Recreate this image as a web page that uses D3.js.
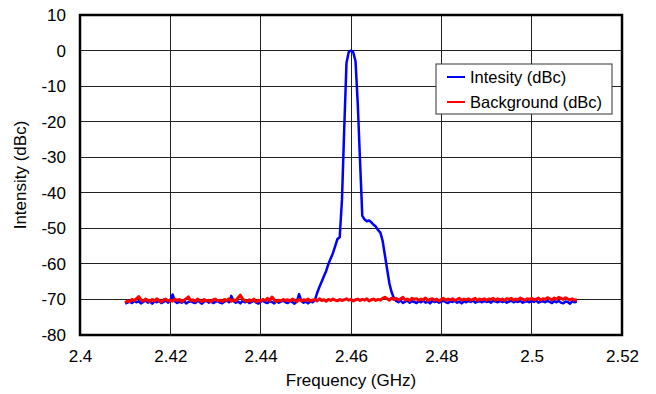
<!DOCTYPE html>
<html lang="en">
<head>
<meta charset="utf-8">
<title>Intensity vs Frequency</title>
<script src="https://cdn.jsdelivr.net/npm/d3@7"></script>
<style>
  body { margin: 0; background: #fff; }
  svg { font-family: 'Liberation Sans', Arial, sans-serif; }
</style>
</head>
<body>
<script>
// frequency sweep 2.41 .. 2.51 GHz, 0.0005 GHz step
const freqStart = 2.41, freqStep = 0.0005;

const intensity = [
  -71.2,-70.9,-70.6,-71.0,-70.4,-70.8,-70.5,-71.1,-70.7,-70.3,
  -70.9,-70.6,-71.2,-70.5,-70.8,-70.4,-71.0,-70.7,-70.3,-70.9,
  -70.2,-68.6,-70.5,-71.0,-70.6,-70.9,-70.4,-71.1,-70.7,-70.5,
  -70.8,-71.0,-70.4,-70.7,-71.2,-70.6,-70.3,-70.9,-70.5,-71.0,
  -70.7,-70.4,-70.9,-71.1,-70.6,-70.3,-70.8,-69.0,-70.5,-70.9,
  -70.6,-71.1,-70.4,-70.8,-70.5,-71.0,-70.7,-70.3,-70.9,-71.2,
  -70.6,-70.4,-70.8,-71.0,-70.5,-70.7,-71.1,-70.4,-70.9,-70.6,
  -70.3,-70.8,-71.0,-70.5,-70.7,-71.2,-70.6,-68.5,-70.4,-70.9,
  -70.6,-71.1,-70.5,-70.8,-70.2,-68.2,-66.5,-65.0,-63.5,-62.0,
  -60.0,-58.5,-57.0,-55.0,-53.0,-52.5,-42.0,-22.0,-3.5,-0.4,
  0.0,-0.5,-3.0,-15.0,-31.0,-46.5,-47.5,-48.0,-47.8,-48.3,
  -49.0,-49.5,-50.5,-51.2,-53.5,-57.5,-61.5,-65.5,-68.0,-69.6,
  -70.4,-70.8,-70.3,-71.0,-70.6,-70.4,-70.9,-70.5,-70.7,-71.0,
  -70.5,-70.8,-70.3,-70.9,-70.6,-71.1,-70.4,-70.7,-70.5,-70.9,
  -70.6,-70.3,-70.8,-71.0,-70.5,-70.7,-70.4,-70.9,-70.6,-71.1,
  -70.5,-70.8,-70.4,-70.7,-70.3,-70.9,-70.6,-70.5,-70.8,-70.4,
  -70.7,-70.5,-70.9,-70.3,-70.6,-70.8,-70.4,-70.7,-70.5,-70.9,
  -70.6,-70.3,-70.8,-70.5,-70.7,-70.4,-70.9,-70.6,-70.5,-70.8,
  -70.4,-70.7,-70.3,-70.9,-70.6,-70.5,-70.8,-70.4,-70.7,-71.0,
  -70.5,-70.8,-70.4,-70.9,-71.1,-70.6,-70.7,-71.2,-70.5,-70.8,
  -70.6
];

const background = [
  -70.9,-70.4,-70.6,-70.0,-70.3,-69.8,-69.2,-70.1,-70.5,-69.9,
  -70.2,-70.6,-70.0,-70.4,-69.8,-70.3,-70.7,-70.1,-69.9,-70.4,
  -70.2,-70.5,-69.9,-70.3,-70.0,-70.6,-70.2,-69.8,-69.3,-70.4,
  -70.1,-70.5,-69.9,-70.3,-70.6,-70.0,-70.4,-70.2,-70.7,-70.1,
  -69.9,-70.4,-70.2,-70.6,-70.0,-70.3,-69.8,-70.5,-70.1,-70.4,
  -69.5,-68.8,-69.9,-70.3,-70.6,-70.1,-70.4,-69.9,-70.7,-70.2,
  -70.5,-70.0,-70.3,-69.7,-70.4,-69.3,-70.1,-70.6,-70.2,-70.4,
  -70.0,-70.3,-70.1,-70.5,-69.9,-70.2,-70.6,-70.0,-70.4,-70.1,
  -70.3,-69.9,-70.5,-70.2,-70.0,-70.4,-69.8,-70.3,-70.1,-70.5,
  -70.0,-70.3,-69.9,-70.2,-70.4,-70.0,-70.3,-70.1,-69.8,-70.2,
  -70.0,-70.4,-70.1,-69.9,-70.3,-70.0,-70.2,-69.8,-70.4,-70.1,
  -69.9,-70.3,-70.0,-70.2,-69.7,-69.4,-69.8,-70.2,-69.6,-70.0,
  -69.7,-70.1,-69.8,-69.4,-70.2,-69.9,-70.3,-69.7,-70.0,-69.8,
  -70.2,-69.9,-70.1,-69.6,-70.3,-70.0,-69.8,-70.2,-69.9,-70.4,
  -70.0,-69.7,-70.2,-69.9,-70.1,-69.8,-70.3,-70.0,-69.7,-70.2,
  -69.9,-70.1,-69.8,-70.2,-70.0,-69.7,-70.3,-69.9,-70.1,-69.8,
  -70.2,-69.9,-70.0,-69.7,-70.2,-69.8,-70.1,-69.9,-70.3,-69.8,
  -70.0,-69.7,-70.2,-69.9,-70.1,-69.6,-69.9,-70.2,-69.8,-70.0,
  -69.7,-70.1,-69.9,-69.6,-70.2,-69.8,-70.0,-69.5,-69.8,-70.1,
  -69.6,-69.9,-69.4,-69.7,-70.0,-69.5,-69.9,-70.1,-69.8,-70.2,
  -70.0
];

const xTicks = [2.4, 2.42, 2.44, 2.46, 2.48, 2.5, 2.52];
const yTicks = [10, 0, -10, -20, -30, -40, -50, -60, -70, -80];
const seriesNames = ["Intesity (dBc)", "Background (dBc)"];
const seriesColors = ["#0000ff", "#ff0000"];

const W = 656, H = 394;
const margin = {top: 15, right: 34, bottom: 59, left: 80};
const width = W - margin.left - margin.right,
      height = H - margin.top - margin.bottom;

const svg = d3.select("body").append("svg")
    .attr("width", W).attr("height", H);

const g = svg.append("g")
    .attr("transform", `translate(${margin.left},${margin.top})`);

const x = d3.scaleLinear().domain([2.4, 2.52]).range([0, width]);
const y = d3.scaleLinear().domain([-80, 10]).range([height, 0]);

// gridlines
g.append("g")
  .selectAll("line")
  .data(xTicks.slice(1, -1))
  .join("line")
    .attr("x1", d => x(d)).attr("x2", d => x(d))
    .attr("y1", 0).attr("y2", height)
    .attr("stroke", "#222").attr("stroke-width", 1)
    .attr("shape-rendering", "crispEdges");

g.append("g")
  .selectAll("line")
  .data(yTicks.slice(1, -1))
  .join("line")
    .attr("x1", 0).attr("x2", width)
    .attr("y1", d => y(d)).attr("y2", d => y(d))
    .attr("stroke", "#222").attr("stroke-width", 1)
    .attr("shape-rendering", "crispEdges");

// axes (labels only, frame drawn separately)
const xAxis = g.append("g")
    .attr("transform", `translate(0,${height})`)
    .call(d3.axisBottom(x).tickValues(xTicks).tickSize(0).tickPadding(15)
      .tickFormat(d => d3.format("~g")(d)));
const yAxis = g.append("g")
    .call(d3.axisLeft(y).tickValues(yTicks).tickSize(0).tickPadding(14)
      .tickFormat(d => String(d)));
[xAxis, yAxis].forEach(a => {
  a.select(".domain").remove();
  a.selectAll("text")
    .attr("font-family", "'Liberation Sans', Arial, sans-serif")
    .attr("font-size", 17).attr("fill", "#000");
});

// series
const line = d3.line()
    .x((d, i) => x(freqStart + i * freqStep))
    .y(d => y(d));

[intensity, background].forEach((vals, k) => {
  g.append("path")
    .datum(vals)
    .attr("fill", "none")
    .attr("stroke", seriesColors[k])
    .attr("stroke-width", k === 0 ? 2.5 : 3)
    .attr("stroke-linejoin", "round")
    .attr("d", line);
});

// plot frame
g.append("rect")
    .attr("x", 0).attr("y", 0)
    .attr("width", width).attr("height", height)
    .attr("fill", "none").attr("stroke", "#000").attr("stroke-width", 2.5);

// axis titles
svg.append("text")
    .attr("x", margin.left + width / 2).attr("y", 386)
    .attr("text-anchor", "middle")
    .attr("font-size", 17)
    .text("Frequency (GHz)");

svg.append("text")
    .attr("transform", `translate(26,${margin.top + height / 2}) rotate(-90)`)
    .attr("text-anchor", "middle")
    .attr("font-size", 17)
    .text("Intensity (dBc)");

// legend
const lg = svg.append("g").attr("transform", "translate(436,64)");
lg.append("rect")
    .attr("width", 176).attr("height", 50)
    .attr("fill", "#fff").attr("stroke", "#333").attr("stroke-width", 1);
seriesNames.forEach((name, k) => {
  const row = lg.append("g").attr("transform", `translate(0,${13 + k * 25})`);
  row.append("line")
    .attr("x1", 11).attr("x2", 29)
    .attr("stroke", seriesColors[k]).attr("stroke-width", 2);
  row.append("text")
    .attr("x", 34).attr("dy", "0.36em")
    .attr("font-size", 16.5)
    .text(name);
});
</script>
</body>
</html>
